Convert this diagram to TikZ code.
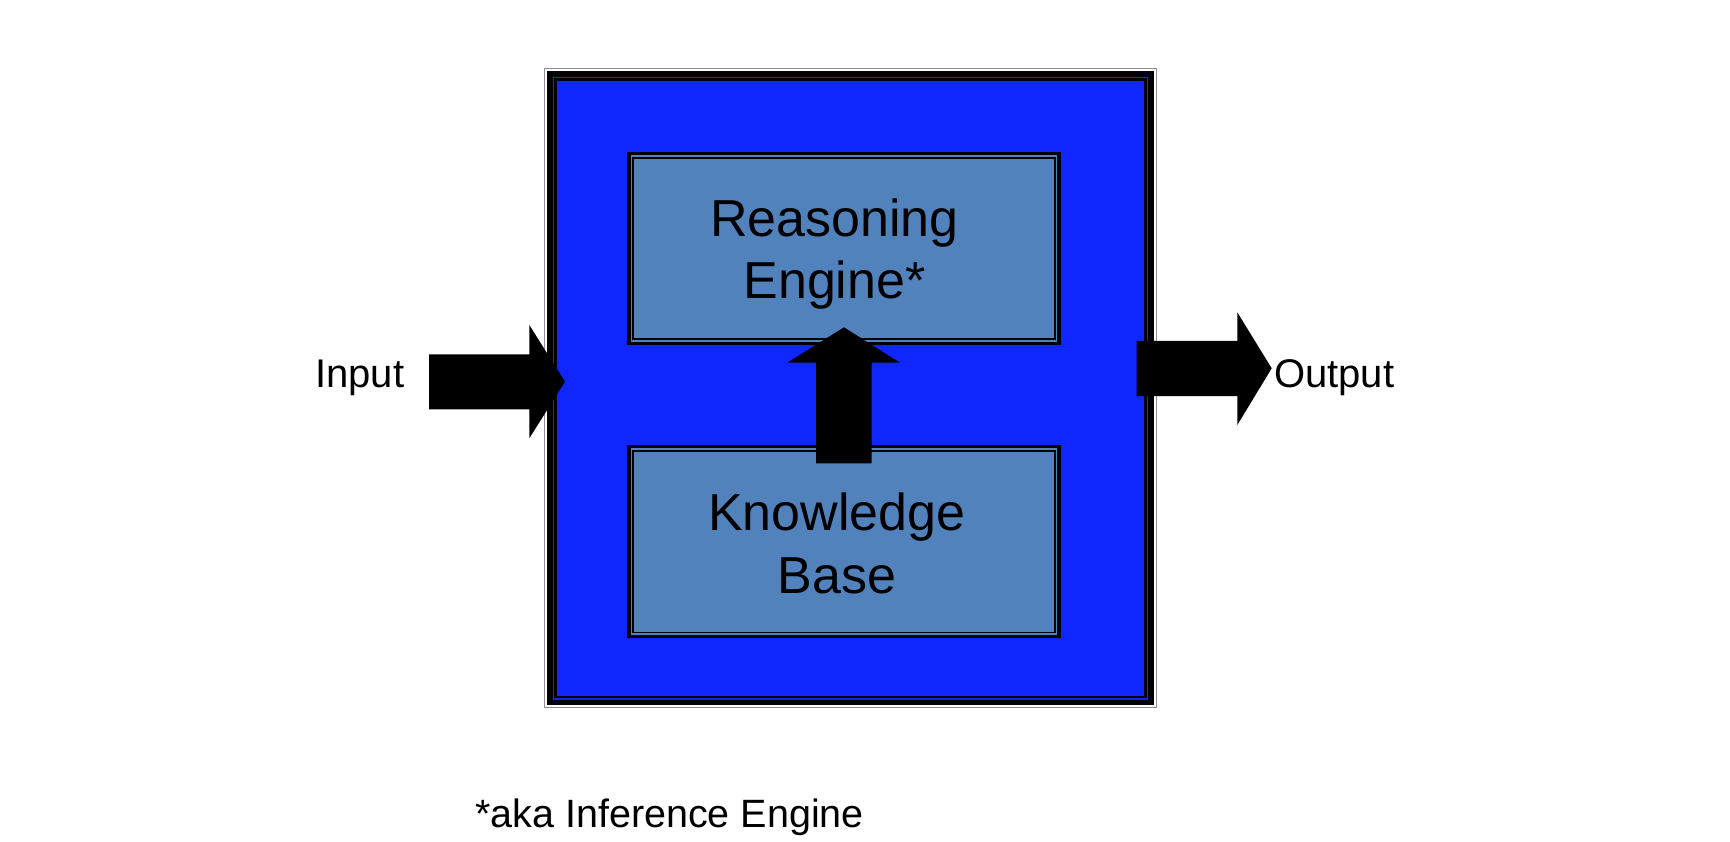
\documentclass[tikz,border=0pt]{standalone}
\usepackage{fontspec}
\setmainfont{Liberation Sans}
\definecolor{mainblue}{HTML}{0F26FF}
\definecolor{boxblue}{HTML}{5282BC}
\definecolor{edgegray}{HTML}{909090}
\tikzset{
  bigtext/.style={font=\fontsize{52}{55}\selectfont, inner sep=0pt, anchor=base},
  smalltext/.style={font=\fontsize{40}{44}\selectfont, inner sep=0pt},
  blockarrow/.style={fill=black, draw=none},
}
\begin{document}
\begin{tikzpicture}[x=1pt,y=-1pt]
\useasboundingbox (0,0) rectangle (1730,842);
\fill[white] (0,0) rectangle (1730,842);
% outer container with compound border
\fill[edgegray] (544,68) rectangle (1157,708.3);
\fill[white] (545.3,69.3) rectangle (1155.7,707);
\fill[black] (547.3,71.3) rectangle (1153.7,705);
\fill[mainblue] (552.7,76.7) rectangle (1148.3,699.6);
\fill[black] (554.3,78.3) rectangle (1146.7,698);
\fill[mainblue] (556.7,80.7) rectangle (1144.3,695.6);
\coordinate (outer) at (850.5,388);
% inner boxes
\foreach \n/\ya/\yb in {re/152/345, kb/445/638.3}{
  \fill[black] (627.3,\ya) rectangle (1060.7,\yb);
  \fill[boxblue] (630.6,\ya+3.3) rectangle (1057.4,\yb-3.3);
  \fill[black] (632.3,\ya+5) rectangle (1055.7,\yb-5);
  \fill[boxblue] (634,\ya+6.7) rectangle (1054,\yb-6.7);
}
\node[bigtext] (re1) at (834.5,237) {Reasoning};
\node[bigtext] (re2) at (834.5,299) {Engine*};
\node[bigtext] (kb1) at (836.7,530) {Knowledge};
\node[bigtext] (kb2) at (836.7,593) {Base};
% input arrow
\fill[blockarrow] (429,354.3) -- (529.3,354.3) -- (529.3,325) -- (565,381.7) -- (529.3,438.3) -- (529.3,409.3) -- (429,409.3) -- cycle;
% up arrow
\fill[blockarrow] (816,463.3) -- (816,362.7) -- (787.3,362.7) -- (844,327.3) -- (900,362.7) -- (871.7,362.7) -- (871.7,463.3) -- cycle;
% output arrow
\fill[blockarrow] (1136.7,341) -- (1237.3,341) -- (1237.3,312.3) -- (1271.7,368.3) -- (1237.3,425) -- (1237.3,396) -- (1136.7,396) -- cycle;
\node[smalltext, anchor=base west] (in) at (315,387) {Input};
\node[smalltext, anchor=base west] (out) at (1274,387) {Output};
\node[smalltext, anchor=base west, font=\fontsize{39.5}{44}\selectfont] (note) at (475,827) {*aka Inference Engine};
\end{tikzpicture}
\end{document}
